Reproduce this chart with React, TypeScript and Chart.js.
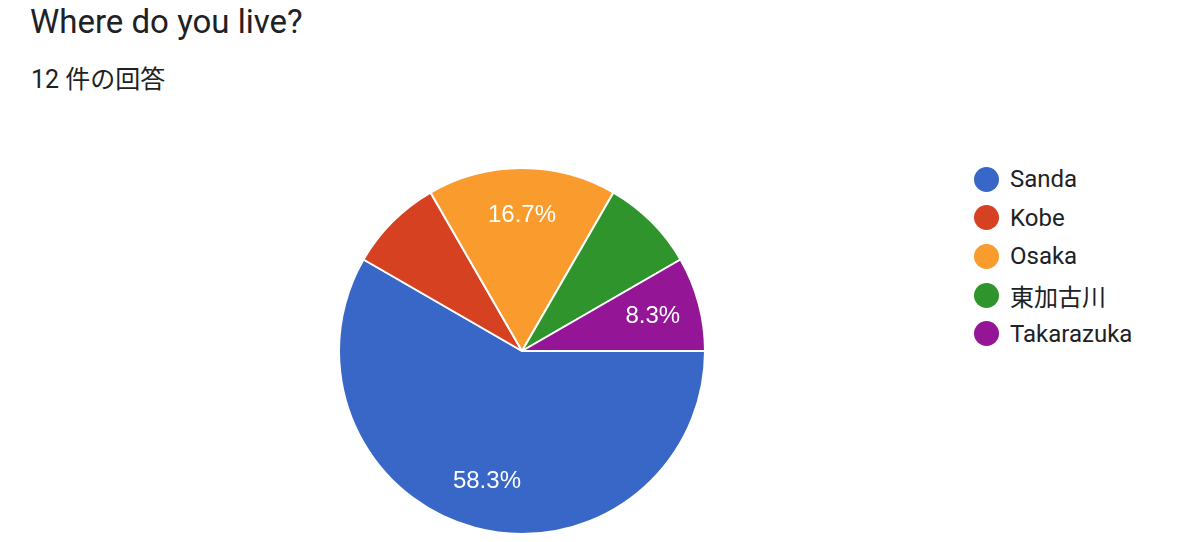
import React, { useEffect, useRef } from "react";
import { Chart, registerables } from "chart.js";

Chart.register(...registerables);

const TITLE = "Where do you live?";
const SUBTITLE = "12 件の回答";
const categories = ["Sanda", "Kobe", "Osaka", "東加古川", "Takarazuka"];
const counts = [7, 1, 2, 1, 1];
const showLabel = [true, false, true, false, true];
const colors = ["#3867c8", "#d64122", "#f99b2d", "#2f942b", "#941696"];

const FONT = "Roboto, 'Noto Sans CJK JP', sans-serif";

const labelPlugin = {
  id: "sliceLabels",
  afterDatasetsDraw(chart: any) {
    const ctx = chart.ctx;
    const meta = chart.getDatasetMeta(0);
    const total = counts.reduce((a, b) => a + b, 0);
    ctx.save();
    ctx.fillStyle = "#ffffff";
    ctx.font = "24px 'Liberation Sans', Arial, sans-serif";
    ctx.textAlign = "center";
    ctx.textBaseline = "middle";
    meta.data.forEach((arc: any, i: number) => {
      if (!showLabel[i]) return;
      const p = arc.getProps(["x", "y", "startAngle", "endAngle", "outerRadius"], true);
      const mid = (p.startAngle + p.endAngle) / 2;
      const r = p.outerRadius * 0.74;
      const pct = ((counts[i] / total) * 100).toFixed(1) + "%";
      ctx.fillText(pct, p.x + Math.cos(mid) * r, p.y + Math.sin(mid) * r);
    });
    ctx.restore();
  },
};

export default function App() {
  const ref = useRef<HTMLCanvasElement>(null);
  useEffect(() => {
    if (!ref.current) return;
    const chart = new Chart(ref.current, {
      type: "pie",
      data: {
        labels: categories,
        datasets: [
          {
            data: counts,
            backgroundColor: colors,
            borderColor: "#ffffff",
            borderWidth: 2,
          },
        ],
      },
      options: {
        animation: false,
        responsive: false,
        rotation: 90,
        layout: { padding: 0 },
        plugins: {
          legend: { display: false },
          tooltip: { enabled: false },
        },
      },
      plugins: [labelPlugin],
    });
    return () => chart.destroy();
  }, []);

  return (
    <div
      style={{
        position: "absolute",
        left: 0,
        top: 0,
        width: 1183,
        height: 542,
        background: "#ffffff",
        fontFamily: FONT,
        color: "#202124",
        overflow: "hidden",
      }}
    >
      <div
        style={{
          position: "absolute",
          left: 30,
          top: 2,
          fontSize: 33,
          lineHeight: "40px",
          whiteSpace: "nowrap",
        }}
      >
        {TITLE}
      </div>
      <div
        style={{
          position: "absolute",
          left: 31,
          top: 65,
          fontSize: 25,
          lineHeight: "30px",
          whiteSpace: "nowrap",
        }}
      >
        {SUBTITLE}
      </div>
      <canvas
        ref={ref}
        width={368}
        height={368}
        style={{ position: "absolute", left: 338, top: 167, width: 368, height: 368 }}
      />
      <div style={{ position: "absolute", left: 974, top: 160 }}>
        {categories.map((c, i) => (
          <div
            key={c}
            style={{
              display: "flex",
              alignItems: "center",
              height: 38.6,
              whiteSpace: "nowrap",
            }}
          >
            <span
              style={{
                display: "inline-block",
                width: 25,
                height: 25,
                borderRadius: "50%",
                background: colors[i],
                marginRight: 11,
              }}
            />
            <span style={{ fontSize: 24, color: "#202124" }}>{c}</span>
          </div>
        ))}
      </div>
    </div>
  );
}
